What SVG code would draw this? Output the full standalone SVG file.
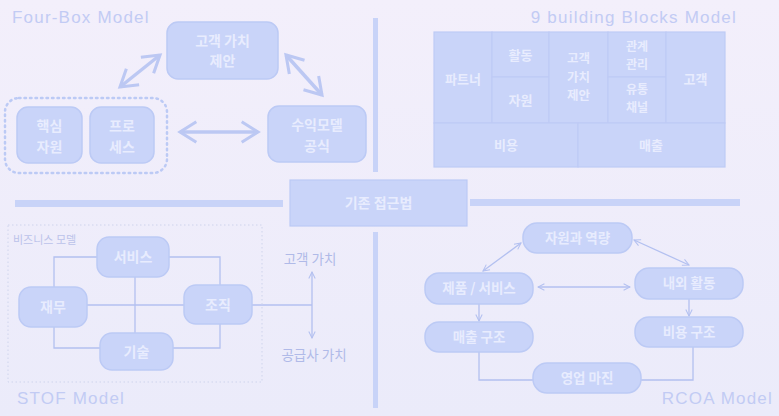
<svg xmlns="http://www.w3.org/2000/svg" width="779" height="416" viewBox="0 0 779 416">
<defs>
<linearGradient id="bg" x1="0" y1="0" x2="0" y2="1">
<stop offset="0" stop-color="#f3effb"/>
<stop offset="1" stop-color="#ebebfa"/>
</linearGradient>
<marker id="chev" viewBox="0 0 12 12" refX="10" refY="6" markerWidth="7" markerHeight="7" orient="auto-start-reverse" markerUnits="strokeWidth">
<polyline points="2,1 10,6 2,11" fill="none" stroke="#bcc8f3" stroke-width="1.5"/>
</marker>
<marker id="tip" viewBox="0 0 10 10" refX="9" refY="5" markerWidth="8" markerHeight="8" orient="auto-start-reverse" markerUnits="userSpaceOnUse">
<polyline points="1,1 9,5 1,9" fill="none" stroke="#b3c0f0" stroke-width="1.3"/>
</marker>
</defs>
<style>
.node{fill:#c9d4f9;stroke:#bccaf5;stroke-width:1.5}
.cell{fill:#c9d4f9;stroke:#bfcbf5;stroke-width:1.2}
.t{font-family:"Noto Sans CJK KR","Noto Sans",sans-serif;font-weight:bold;fill:#e8ecfe;text-anchor:middle}
.title{font-family:"Liberation Sans",Arial,sans-serif;font-size:17px;fill:#c2cbf4;letter-spacing:1.2px}
.bar{fill:#c8d3f8}
.thick{fill:none;stroke:#bcc8f3;stroke-width:3.5;marker-start:url(#chev);marker-end:url(#chev)}
.thin{fill:none;stroke:#b3c0f0;stroke-width:1.3}
.arr{marker-start:url(#tip);marker-end:url(#tip)}
.arr1{marker-end:url(#tip)}
.lbl{font-family:"Noto Sans CJK KR","Noto Sans",sans-serif;font-size:13.5px;fill:#b0bae8;text-anchor:middle}
</style>
<rect width="779" height="416" fill="url(#bg)"/>

<g id="dividers">
<rect class="bar" x="373" y="18" width="5" height="154"/>
<rect class="bar" x="373" y="232" width="5" height="176"/>
<rect class="bar" x="15" y="200" width="268" height="7"/>
<rect class="bar" x="470" y="199" width="270" height="7"/>
</g>

<g id="titles">
<text class="title" x="12" y="23">Four-Box Model</text>
<text class="title" x="737" y="23" text-anchor="end">9 building Blocks Model</text>
<text class="title" x="17" y="404">STOF Model</text>
<text class="title" x="773" y="404" text-anchor="end">RCOA Model</text>
</g>

<g id="center">
<rect x="290" y="180" width="177" height="46" fill="#c9d4f9" stroke="#bccaf5" stroke-width="1.2"/>
<text class="t" x="378.5" y="208" font-size="14">기존 접근법</text>
</g>

<g id="connectors">
<line class="thick" x1="120" y1="87" x2="160" y2="55"/>
<line class="thick" x1="286" y1="55" x2="322" y2="95"/>
<line class="thick" x1="180" y1="132" x2="258" y2="132"/>

<polyline class="thin" points="97,257 54,257 54,287"/>
<polyline class="thin" points="169,257 220,257 220,285"/>
<polyline class="thin" points="54,327 54,348 100,348"/>
<polyline class="thin" points="173,348 220,348 220,324"/>
<line class="thin" x1="135" y1="277" x2="135" y2="333"/>
<line class="thin" x1="87" y1="305" x2="184" y2="305"/>
<line class="thin" x1="252" y1="305" x2="312" y2="305"/>
<line class="thin arr" x1="312" y1="272" x2="312" y2="338"/>

<line class="thin arr" x1="483" y1="271" x2="521" y2="243"/>
<line class="thin arr" x1="634" y1="240" x2="689" y2="265"/>
<line class="thin arr" x1="538" y1="287" x2="630" y2="287"/>
<line class="thin arr1" x1="479" y1="304" x2="479" y2="321"/>
<line class="thin arr1" x1="689" y1="299" x2="689" y2="316"/>
<polyline class="thin" points="479,352 479,380 533,380"/>
<polyline class="thin" points="693,347 693,380 641,380"/>
</g>

<g id="fourbox-group">
<rect x="5" y="98" width="162" height="75" rx="14" fill="none" stroke="#bccaf5" stroke-width="2.5" stroke-dasharray="1.5 4" stroke-linecap="round"/>
</g>
<g id="fb-value">
<rect class="node" x="167" y="22" width="111" height="57" rx="11"/>
<text class="t" x="222.5" y="46" font-size="14">고객 가치</text>
<text class="t" x="222.5" y="66" font-size="14">제안</text>
</g>
<g id="fb-resource">
<rect class="node" x="17" y="107" width="65" height="56" rx="11"/>
<text class="t" x="49.5" y="131" font-size="14">핵심</text>
<text class="t" x="49.5" y="152" font-size="14">자원</text>
</g>
<g id="fb-process">
<rect class="node" x="90" y="107" width="64" height="56" rx="11"/>
<text class="t" x="122" y="131" font-size="14">프로</text>
<text class="t" x="122" y="152" font-size="14">세스</text>
</g>
<g id="fb-profit">
<rect class="node" x="268" y="106" width="98" height="56" rx="11"/>
<text class="t" x="317" y="130" font-size="14">수익모델</text>
<text class="t" x="317" y="151" font-size="14">공식</text>
</g>

<g id="bb-partner"><rect class="cell" x="434" y="32" width="58" height="91"/><text class="t" x="463" y="84" font-size="13">파트너</text></g>
<g id="bb-activity"><rect class="cell" x="492" y="32" width="57" height="45"/><text class="t" x="520.5" y="60" font-size="13">활동</text></g>
<g id="bb-resource"><rect class="cell" x="492" y="77" width="57" height="46"/><text class="t" x="520.5" y="105" font-size="13">자원</text></g>
<g id="bb-value"><rect class="cell" x="549" y="32" width="59" height="91"/>
<text class="t" x="578.5" y="63" font-size="12.5">고객</text>
<text class="t" x="578.5" y="81.5" font-size="12.5">가치</text>
<text class="t" x="578.5" y="100" font-size="12.5">제안</text></g>
<g id="bb-relation"><rect class="cell" x="608" y="32" width="58" height="45"/>
<text class="t" x="637" y="51" font-size="12">관계</text>
<text class="t" x="637" y="68.5" font-size="12">관리</text></g>
<g id="bb-channel"><rect class="cell" x="608" y="77" width="58" height="46"/>
<text class="t" x="637" y="94" font-size="12">유통</text>
<text class="t" x="637" y="111.5" font-size="12">채널</text></g>
<g id="bb-customer"><rect class="cell" x="666" y="32" width="59" height="91"/><text class="t" x="695.5" y="84" font-size="13">고객</text></g>
<g id="bb-cost"><rect class="cell" x="434" y="123" width="144" height="44"/><text class="t" x="506" y="150" font-size="13">비용</text></g>
<g id="bb-revenue"><rect class="cell" x="578" y="123" width="147" height="44"/><text class="t" x="651" y="150" font-size="13">매출</text></g>

<g id="stof-frame">
<rect x="8" y="225" width="254" height="157" fill="none" stroke="#cfd4ec" stroke-width="1" stroke-dasharray="1.5 2.5"/>
<text x="13" y="244" font-family="'Noto Sans CJK KR',sans-serif" font-size="11" fill="#bcc3ea">비즈니스 모델</text>
</g>
<g id="stof-service"><rect class="node" x="97" y="237" width="72" height="40" rx="12"/><text class="t" x="133" y="262" font-size="14">서비스</text></g>
<g id="stof-finance"><rect class="node" x="19" y="287" width="68" height="40" rx="12"/><text class="t" x="53" y="312" font-size="14">재무</text></g>
<g id="stof-org"><rect class="node" x="184" y="285" width="68" height="39" rx="12"/><text class="t" x="218" y="310" font-size="14">조직</text></g>
<g id="stof-tech"><rect class="node" x="100" y="333" width="73" height="37" rx="12"/><text class="t" x="136.5" y="357" font-size="14">기술</text></g>
<g id="stof-labels">
<text class="lbl" x="310" y="264">고객 가치</text>
<text class="lbl" x="314" y="360">공급사 가치</text>
</g>

<g id="rc-capability"><rect class="node" x="523" y="223" width="109" height="30" rx="14"/><text class="t" x="577.5" y="243" font-size="13.5">자원과 역량</text></g>
<g id="rc-product"><rect class="node" x="425" y="273" width="108" height="31" rx="14"/><text class="t" x="479" y="293" font-size="13.5">제품 / 서비스</text></g>
<g id="rc-activity"><rect class="node" x="635" y="268" width="108" height="31" rx="14"/><text class="t" x="689" y="288" font-size="13.5">내외 활동</text></g>
<g id="rc-revenue"><rect class="node" x="425" y="322" width="108" height="30" rx="14"/><text class="t" x="479" y="342" font-size="13.5">매출 구조</text></g>
<g id="rc-cost"><rect class="node" x="635" y="317" width="108" height="30" rx="14"/><text class="t" x="689" y="337" font-size="13.5">비용 구조</text></g>
<g id="rc-margin"><rect class="node" x="533" y="363" width="108" height="30" rx="14"/><text class="t" x="587" y="383" font-size="13.5">영업 마진</text></g>
</svg>
